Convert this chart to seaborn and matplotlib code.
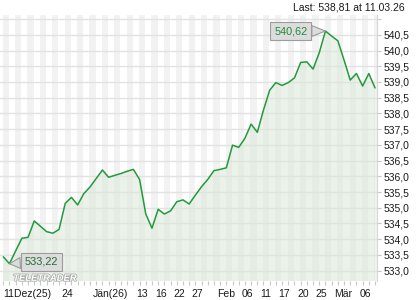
import numpy as np
import pandas as pd
import matplotlib
matplotlib.use("Agg")
import matplotlib.pyplot as plt
import matplotlib.transforms as mtransforms
import seaborn as sns
from matplotlib import patheffects as pe

# ---------------- data ----------------
dates = ["2025-12-11", "2025-12-12", "2025-12-15", "2025-12-16", "2025-12-17", "2025-12-18",
         "2025-12-19", "2025-12-22", "2025-12-23", "2025-12-24", "2025-12-26", "2025-12-29",
         "2025-12-30", "2025-12-31", "2026-01-02", "2026-01-05", "2026-01-06", "2026-01-07",
         "2026-01-08", "2026-01-09", "2026-01-12", "2026-01-13", "2026-01-14", "2026-01-15",
         "2026-01-16", "2026-01-20", "2026-01-21", "2026-01-22", "2026-01-23", "2026-01-26",
         "2026-01-27", "2026-01-28", "2026-01-29", "2026-01-30", "2026-02-02", "2026-02-03",
         "2026-02-04", "2026-02-05", "2026-02-06", "2026-02-09", "2026-02-10", "2026-02-11",
         "2026-02-12", "2026-02-13", "2026-02-17", "2026-02-18", "2026-02-19", "2026-02-20",
         "2026-02-23", "2026-02-24", "2026-02-25", "2026-02-26", "2026-02-27", "2026-03-02",
         "2026-03-03", "2026-03-04", "2026-03-05", "2026-03-06", "2026-03-09", "2026-03-10",
         "2026-03-11"]

values = [533.44, 533.22, 533.63, 534.03, 534.06, 534.58, 534.41, 534.24, 534.19, 534.31,
          535.14, 535.33, 535.09, 535.45, 535.66, 535.93, 536.20, 535.97, 536.03, 536.09,
          536.16, 536.22, 535.90, 534.80, 534.35, 534.95, 534.80, 534.90, 535.19, 535.25,
          535.12, 535.40, 535.67, 535.90, 536.18, 536.22, 536.27, 536.99, 536.92, 537.21,
          537.66, 537.40, 538.11, 538.74, 538.98, 538.89, 538.98, 539.13, 539.62, 539.64,
          539.41, 539.93, 540.62, 540.46, 540.31, 539.70, 539.06, 539.27, 538.87, 539.27,
          538.81]

tick_dates = ["2025-12-11", "2025-12-24", "2026-01-01", "2026-01-13", "2026-01-16",
              "2026-01-22", "2026-01-27", "2026-02-01", "2026-02-06", "2026-02-11",
              "2026-02-17", "2026-02-20", "2026-02-25", "2026-03-01", "2026-03-06"]
tick_labels = ["11Dez(25)", "24", "Jän(26)", "13", "16", "22", "27", "Feb", "06", "11",
               "17", "20", "25", "Mär", "06"]

y_ticks = [533.0, 533.5, 534.0, 534.5, 535.0, 535.5, 536.0, 536.5, 537.0, 537.5,
           538.0, 538.5, 539.0, 539.5, 540.0, 540.5, 541.0]
y_labeled_max = 540.5

header = "Last: 538,81 at 11.03.26"

# ---------------- styling ----------------
sns.set_theme(style="white")
plt.rcParams['font.family'] = ['Liberation Sans', 'DejaVu Sans']

LINE = "#239a3c"
FILL = "#dbe8d8"
STRIPE = "#f2f2f2"
GRID = "#e2e2e2"
TICKC = "#c8c8c8"

df = pd.DataFrame({"date": pd.to_datetime(dates), "value": values})
df["pos"] = np.arange(len(df))

fig = plt.figure(figsize=(4.2, 3.0), dpi=100)
fig.patch.set_facecolor("white")
ax = fig.add_axes([0.0, 19 / 300, 377 / 420, 266 / 300])
ax.set_facecolor("white")

# alternating day stripes
for p in df["pos"]:
    if p % 2 == 0:
        ax.axvspan(p - 0.1, p + 0.9, color=STRIPE, lw=0, zorder=0)

# fill + line
ax.fill_between(df["pos"], df["value"], 530, color=FILL, alpha=0.55, lw=0, zorder=1)
sns.lineplot(data=df, x="pos", y="value", color=LINE, lw=1.1, ax=ax, zorder=3)

ax.set_xlim(-0.53, 60.32)
ax.set_ylim(532.67, 541.13)

# y axis on the right
ax.set_yticks(y_ticks)
ax.set_yticklabels([f"{v:.1f}".replace(".", ",") if v <= y_labeled_max else "" for v in y_ticks])
ax.yaxis.tick_right()
ax.yaxis.grid(True, color=GRID, lw=1, zorder=0.5)
ax.xaxis.grid(False)
ax.tick_params(axis="y", which="major", length=3, width=0.8, color=TICKC, pad=2,
               labelsize=7.5, labelcolor="#1a1a1a", right=True, left=False)

# x axis: minor ticks every day, labels at selected dates
date_index = pd.DatetimeIndex(df["date"])
tick_pos = date_index.searchsorted(pd.to_datetime(tick_dates))
ax.set_xticks(tick_pos)
ax.set_xticklabels(tick_labels)
ax.set_xticks(df["pos"], minor=True)
ax.tick_params(axis="x", which="both", bottom=True, length=3, width=0.8, color=TICKC,
               direction="out")
ax.tick_params(axis="x", which="major", pad=3, labelsize=7.5, labelcolor="#1a1a1a")
shift = mtransforms.ScaledTranslation(2 / 72, 0, fig.dpi_scale_trans)
for k, lbl in enumerate(ax.get_xticklabels()):
    lbl.set_horizontalalignment("left")
    if k > 0:
        lbl.set_transform(lbl.get_transform() + shift)
ax.set_xlabel("")
ax.set_ylabel("")

for s in ["top", "left", "bottom"]:
    ax.spines[s].set_visible(False)
ax.spines["right"].set_color("#d6d6d6")
ax.spines["right"].set_linewidth(0.8)

# max / min annotations
imax = int(np.argmax(values))
imin = int(np.argmin(values))
fmt = lambda v: f"{v:.2f}".replace(".", ",")
box = dict(boxstyle="square,pad=0.38", fc="#dcdcdc", ec="#9c9c9c", lw=0.8)
arrow = dict(arrowstyle="wedge,tail_width=1.0,shrink_factor=0.5", fc="#dcdcdc",
             ec="#9c9c9c", lw=0.8, shrinkA=0, shrinkB=0)
ax.annotate(fmt(values[imax]), xy=(df["pos"][imax], values[imax]), xytext=(-25, 0),
            textcoords="offset points", ha="center", va="center", fontsize=7.8,
            color="#1f8a35", bbox=box, arrowprops=arrow, zorder=5)
ax.annotate(fmt(values[imin]), xy=(df["pos"][imin], values[imin]), xytext=(23, 1.5),
            textcoords="offset points", ha="center", va="center", fontsize=7.8,
            color="#1f6e35", bbox=box, arrowprops=arrow, zorder=5)

# watermark
ax.text(0.035, 0.01, "TELETRADER", transform=ax.transAxes, fontsize=6.8, fontweight="bold",
        fontstyle="italic", color="white", ha="left", va="center", zorder=4,
        path_effects=[pe.withStroke(linewidth=1.1, foreground="#a8a8a8")])

# header
fig.text(405 / 420, 1 - 8 / 300, header, ha="right", va="center", fontsize=7.5,
         color="#1a1a1a")

fig.savefig("out.png", dpi=100)
